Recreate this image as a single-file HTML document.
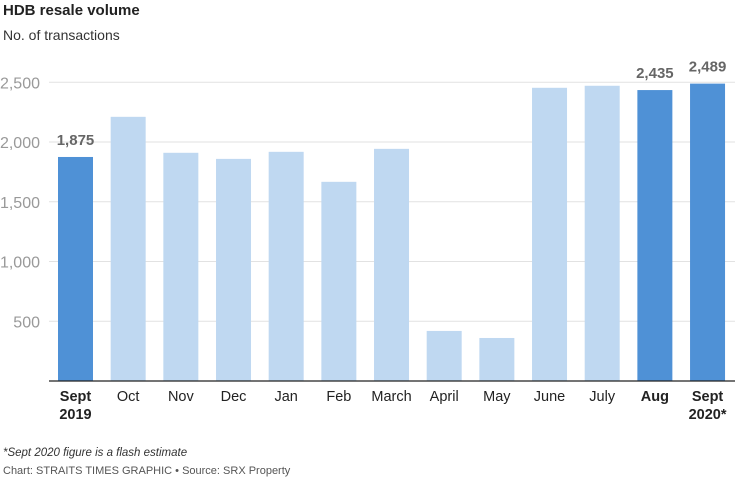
<!DOCTYPE html>
<html><head><meta charset="utf-8"><style>
body{margin:0;background:#fff;font-family:"Liberation Sans",sans-serif;}
svg{display:block}
</style></head><body>
<svg width="735" height="478">
<text x="3" y="15" font-size="15" font-weight="bold" fill="#222">HDB resale volume</text>
<text x="3" y="40" font-size="14" fill="#333">No. of transactions</text>
<g id="grid"></g>
<g id="bars"></g>
<line x1="49" x2="735" y1="381" y2="381" stroke="#222" stroke-width="1.3"/>
<text x="3" y="456" font-size="11.5" font-style="italic" fill="#333">*Sept 2020 figure is a flash estimate</text>
<text x="3" y="474" font-size="11" fill="#555">Chart: STRAITS TIMES GRAPHIC • Source: SRX Property</text>
</svg>
<script>
const categories=["Sept|2019","Oct","Nov","Dec","Jan","Feb","March","April","May","June","July","Aug","Sept|2020*"];
const values=[1875,2211,1910,1859,1918,1667,1943,419,360,2454,2471,2435,2489];
const highlighted=[true,false,false,false,false,false,false,false,false,false,false,true,true];
const labelValues=["1,875","","","","","","","","","","","2,435","2,489"];
const ticks=[500,1000,1500,2000,2500];
const tickLabels=["500","1,000","1,500","2,000","2,500"];
const NS="http://www.w3.org/2000/svg";
const y=v=>381-v*(381-82.3)/2500;
const x=i=>75.5+i*52.67;
const g=document.getElementById('grid'),b=document.getElementById('bars');
function mk(t,a,p){const e=document.createElementNS(NS,t);for(const k in a)e.setAttribute(k,a[k]);p.appendChild(e);return e;}
ticks.forEach((t,i)=>{
 const l=mk('line',{x1:49,x2:735,y1:y(t),y2:y(t),stroke:'#e2e2e2','stroke-width':1},g);
 
 
 const tx=mk('text',{x:40,y:y(t)+6,'text-anchor':'end','font-size':16,fill:'#999'},g);
 tx.textContent=tickLabels[i];
 
 
});
categories.forEach((c,i)=>{
 const r=mk('rect',{x:x(i)-17.5,y:y(values[i]),width:35,height:381-y(values[i]),fill:highlighted[i]?'#4f91d6':'#bfd8f1'},b);
 
 
 if(labelValues[i]){
  const t=mk('text',{x:x(i),y:y(values[i])-12,'text-anchor':'middle','font-size':15,'font-weight':'bold',fill:'#666'},b);
  t.textContent=labelValues[i];
  
  
 }
 c.split('|').forEach((p,j)=>{
  const t=mk('text',{x:x(i),y:401+j*18,'text-anchor':'middle','font-size':14.5,'font-weight':highlighted[i]?'bold':'normal',fill:'#222'},b);
  t.textContent=p;
  
  
 });
});
</script>
</body></html>
